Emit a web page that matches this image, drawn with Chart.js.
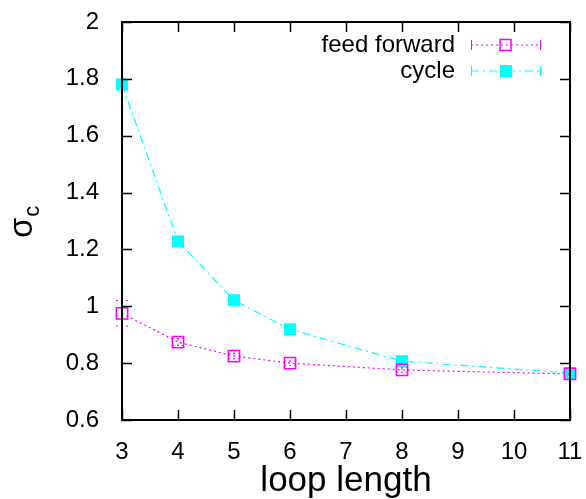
<!DOCTYPE html>
<html><head><meta charset="utf-8">
<script src="https://cdn.jsdelivr.net/npm/chart.js@4/dist/chart.umd.min.js"></script>
<style>html,body{margin:0;padding:0;background:#fff}#wrap{width:586px;height:499px}</style>
</head><body><div id="wrap"><canvas id="c" width="586" height="499"></canvas></div>
<script>
const loopLength = [3, 4, 5, 6, 8, 11];
const feedForward = [0.975, 0.874, 0.825, 0.800, 0.776, 0.762];
const feedForwardErr = [0.045, 0.012, 0.010, 0.008, 0.008, 0.008];
const cycle = [1.780, 1.228, 1.021, 0.919, 0.807, 0.765];
const cycleErr = [0.010, 0.008, 0.006, 0.005, 0.004, 0.004];
const xTicks = [3, 4, 5, 6, 7, 8, 9, 10, 11];
const yTicks = [0.6, 0.8, 1, 1.2, 1.4, 1.6, 1.8, 2];
const seriesNames = ['feed forward', 'cycle'];

const FONT = '"Liberation Sans", Arial, sans-serif';
const MAG = '#ff00ff', CYAN = '#00ffff';

const framePlugin = {
  id: 'frame',
  beforeDatasetsDraw(chart) {
    const {ctx, scales: {x, y}} = chart;
    ctx.save();
    chart.data.datasets.forEach((ds, i) => {
      const errs = i === 0 ? feedForwardErr : cycleErr;
      ctx.strokeStyle = ds.borderColor;
      ctx.lineWidth = 1;
      ctx.setLineDash(ds.borderDash);
      ds.data.forEach((p, j) => {
        const px = x.getPixelForValue(p.x);
        const y1 = y.getPixelForValue(p.y + errs[j]);
        const y2 = y.getPixelForValue(p.y - errs[j]);
        ctx.beginPath();
        ctx.moveTo(px, y1); ctx.lineTo(px, y2);
        ctx.moveTo(px - 6, y1); ctx.lineTo(px + 6, y1);
        ctx.moveTo(px - 6, y2); ctx.lineTo(px + 6, y2);
        ctx.stroke();
      });
    });
    ctx.restore();
  },
  afterDatasetsDraw(chart) {
    const {ctx, chartArea: a, scales: {x, y}} = chart;
    ctx.save();
    ctx.strokeStyle = '#000';
    ctx.lineWidth = 2;
    ctx.setLineDash([]);
    ctx.strokeRect(a.left, a.top, a.right - a.left, a.bottom - a.top);
    ctx.lineWidth = 1.5;
    const tl = 10;
    ctx.beginPath();
    xTicks.forEach(v => {
      const px = Math.round(x.getPixelForValue(v)) + 0.5;
      ctx.moveTo(px, a.bottom); ctx.lineTo(px, a.bottom - tl);
      ctx.moveTo(px, a.top); ctx.lineTo(px, a.top + tl);
    });
    yTicks.forEach(v => {
      const py = Math.round(y.getPixelForValue(v)) + 0.5;
      ctx.moveTo(a.left, py); ctx.lineTo(a.left + tl, py);
      ctx.moveTo(a.right, py); ctx.lineTo(a.right - tl, py);
    });
    ctx.stroke();

    // legend
    ctx.font = '24px ' + FONT;
    ctx.textAlign = 'right';
    ctx.textBaseline = 'middle';
    const rows = [45, 71];
    chart.data.datasets.forEach((ds, i) => {
      const ly = rows[i];
      ctx.fillStyle = '#000';
      ctx.fillText(seriesNames[i], 455, ly);
      ctx.strokeStyle = ds.borderColor;
      ctx.lineWidth = 1;
      ctx.setLineDash(ds.borderDash);
      ctx.beginPath();
      ctx.moveTo(471, ly); ctx.lineTo(540, ly);
      ctx.stroke();
      ctx.setLineDash([]);
      ctx.beginPath();
      ctx.moveTo(471.5, ly - 5); ctx.lineTo(471.5, ly + 5);
      ctx.moveTo(540.5, ly - 5); ctx.lineTo(540.5, ly + 5);
      ctx.stroke();
      if (i === 0) {
        ctx.lineWidth = 1.5;
        ctx.strokeRect(500, ly - 5.5, 11, 11);
      } else {
        ctx.fillStyle = ds.borderColor;
        ctx.fillRect(500, ly - 6, 12, 12);
      }
    });

    // y title (rotated sigma with subscript c)
    ctx.save();
    ctx.translate(32, 238);
    ctx.rotate(-Math.PI / 2);
    ctx.textAlign = 'left';
    ctx.textBaseline = 'alphabetic';
    ctx.fillStyle = '#000';
    ctx.font = '33px ' + FONT;
    ctx.fillText('σ', 0, 0);
    const w = ctx.measureText('σ').width;
    ctx.font = '22px ' + FONT;
    ctx.fillText('c', w + 1, 7);
    ctx.restore();
    ctx.restore();
  }
};

const toPts = (ys) => loopLength.map((v, i) => ({x: v, y: ys[i]}));
const fmt = v => String(Math.round(v * 10) / 10);
const noPad = s => { s.paddingLeft = 0; s.paddingRight = 0; s.paddingTop = 0; s.paddingBottom = 0; };

new Chart(document.getElementById('c'), {
  type: 'line',
  data: {
    datasets: [
      {
        label: seriesNames[0], data: toPts(feedForward),
        borderColor: MAG, backgroundColor: 'rgba(0,0,0,0)', borderWidth: 1.2,
        borderDash: [2, 3], pointStyle: 'rect', pointRadius: 8,
        pointBorderColor: MAG, pointBackgroundColor: 'rgba(0,0,0,0)', pointBorderWidth: 1.5,
        tension: 0
      },
      {
        label: seriesNames[1], data: toPts(cycle),
        borderColor: CYAN, backgroundColor: CYAN, borderWidth: 1.2,
        borderDash: [8, 4, 2, 4], pointStyle: 'rect', pointRadius: 8.5,
        pointBorderColor: CYAN, pointBackgroundColor: CYAN, pointBorderWidth: 0,
        tension: 0
      }
    ]
  },
  options: {
    responsive: false, animation: false,
    clip: false,
    layout: {autoPadding: false, padding: {top: 22, right: 16, left: 0, bottom: 0}},
    plugins: {legend: {display: false}, tooltip: {enabled: false}},
    scales: {
      x: {
        type: 'linear', min: 3, max: 11,
        afterBuildTicks: s => { s.ticks = xTicks.map(v => ({value: v})); },
        afterFit: s => { s.height = 79; noPad(s); },
        grid: {display: false}, border: {display: false},
        ticks: {color: '#000', font: {family: FONT, size: 24}, padding: 10, maxRotation: 0, autoSkip: false, callback: fmt},
        title: {display: true, text: 'loop length', color: '#000', font: {family: FONT, size: 35, lineHeight: 1}, padding: {top: 0, bottom: 0}}
      },
      y: {
        min: 0.6, max: 2,
        afterBuildTicks: s => { s.ticks = yTicks.map(v => ({value: v})); },
        afterFit: s => { s.width = 122; noPad(s); },
        grid: {display: false}, border: {display: false},
        ticks: {color: '#000', font: {family: FONT, size: 24}, padding: 15, autoSkip: false, callback: fmt}
      }
    }
  },
  plugins: [framePlugin]
});
</script>
</body></html>
